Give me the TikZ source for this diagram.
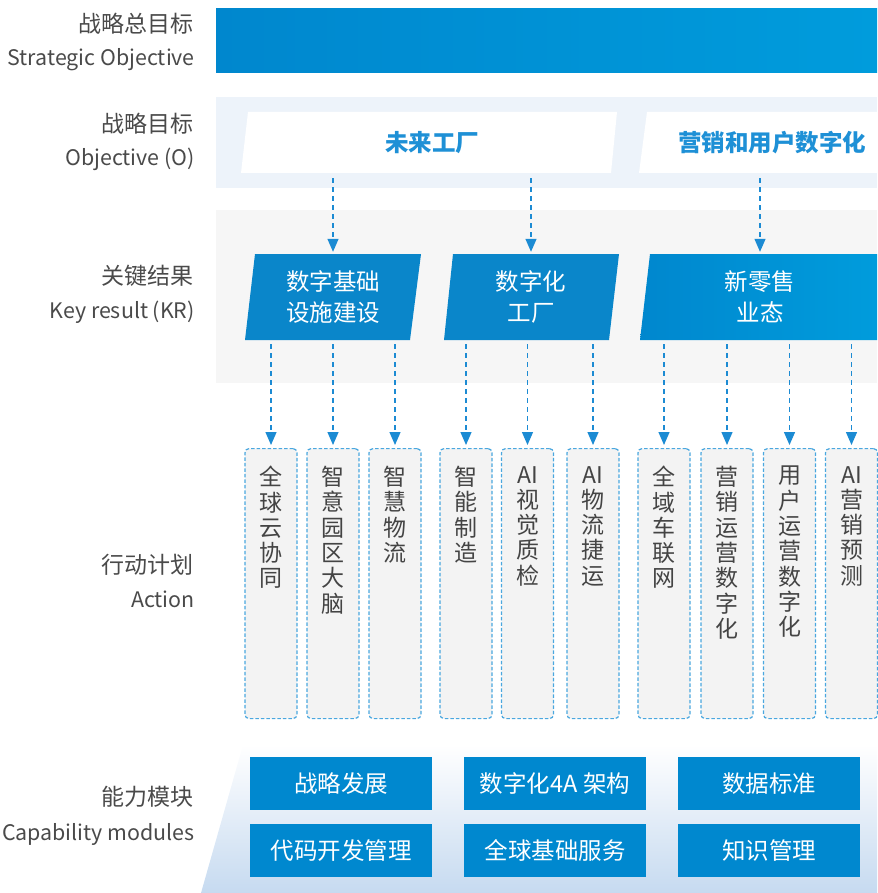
\documentclass[tikz,border=0pt]{standalone}
\usepackage{fontspec}
\setmainfont{Noto Sans CJK SC}
\usetikzlibrary{arrows.meta}
\definecolor{barL}{HTML}{0087CE}
\definecolor{barR}{HTML}{009CDC}
\definecolor{krblue}{HTML}{0A86CA}
\definecolor{objband}{HTML}{EDF3FA}
\definecolor{krband}{HTML}{F6F6F6}
\definecolor{capblue}{HTML}{C6DAF0}
\definecolor{arrblue}{HTML}{1C8BD3}
\definecolor{dashblue}{HTML}{4AA7DF}
\definecolor{objtxt}{HTML}{1E90D6}
\definecolor{lblgray}{HTML}{4A4A4A}
\definecolor{actgray}{HTML}{F3F3F3}
\definecolor{acttxt}{HTML}{444444}
\definecolor{btnblue}{HTML}{0088CF}
\tikzset{
  lblcn/.style={anchor=east, text=lblgray, inner sep=0, font=\fontsize{23}{25}\selectfont},
  lblen/.style={anchor=base east, text=lblgray, inner sep=0, font=\fontsize{21.4}{23}\selectfont},
  objnode/.style={text=objtxt, minimum height=61pt, inner sep=0, font=\fontsize{23.5}{26}\selectfont\bfseries},
  krnode/.style={text=white, minimum width=160pt, minimum height=86pt, inner sep=0, align=center, font=\fontsize{23.5}{31}\selectfont},
  arr/.style={draw=arrblue, line width=1.3pt, dash pattern=on 5pt off 4pt, -{Triangle[width=11pt,length=13pt]}},
  actbox/.style={draw=dashblue, line width=1.2pt, dash pattern=on 3.5pt off 2pt, rounded corners=4pt, fill=actgray, minimum width=52pt, minimum height=270pt, anchor=north, inner sep=0},
  acttext/.style={anchor=north, yshift=-18pt, align=center, text=acttxt, inner sep=0, font=\fontsize{23}{25.3}\selectfont},
  capbtn/.style={fill=btnblue, text=white, minimum width=182pt, minimum height=53pt, inner sep=0, font=\fontsize{23.5}{26}\selectfont}
}
\begin{document}
\begin{tikzpicture}[x=1pt,y=-1pt]
\useasboundingbox (0,0) rectangle (877,893);
% bands
\shade[left color=barL, right color=barR] (216,9) rectangle (877,73);
\fill[objband] (216,97) rectangle (877,188);
\fill[krband] (216,210) rectangle (877,383);
\shade[top color=white, bottom color=capblue] (243,745) -- (877,745) -- (877,893) -- (201,893) -- cycle;
% objective parallelograms
\fill[white] (241,173) -- (248,112) -- (617,112) -- (611,173) -- cycle;
\fill[white] (639,173) -- (647,112) -- (877,112) -- (877,173) -- cycle;
% KR parallelograms
\fill[krblue] (245,340) -- (255,254) -- (421,254) -- (410,340) -- cycle;
\fill[krblue] (444,340) -- (453,254) -- (619,254) -- (609,340) -- cycle;
\shade[left color=barL, right color=barR] (640,340) -- (650,254) -- (877,254) -- (877,340) -- cycle;
% left labels
\node[lblcn] (l1) at (194,24) {战略总目标};
\node[lblen] (l1e) at (195,66) {Strategic Objective};
\node[lblcn] (l2) at (194,124) {战略目标};
\node[lblen] (l2e) at (195,166) {Objective (O)};
\node[lblcn] (l3) at (194,276) {关键结果};
\node[lblen] (l3e) at (195,318) {Key result (KR)};
\node[lblcn] (l4) at (194,565) {行动计划};
\node[lblen] (l4e) at (195,607) {Action};
\node[lblcn] (l5) at (194,797) {能力模块};
\node[lblen] (l5e) at (195,840) {Capability modules};
% objectives
\node[objnode, minimum width=370pt] (o1) at (432,142.5) {未来工厂};
\node[objnode, minimum width=200pt] (o2) at (772,142.5) {营销和用户数字化};
% key results
\node[krnode] (kr1) at (333,297) {数字基础\\设施建设};
\node[krnode] (kr2) at (531,297) {数字化\\工厂};
\node[krnode, minimum width=230pt] (kr3) at (760,297) {新零售\\业态};
% actions
\node[actbox, label={[acttext]north:{全\\球\\云\\协\\同}}] (a1) at (271,448) {};
\node[actbox, label={[acttext]north:{智\\意\\园\\区\\大\\脑}}] (a2) at (333,448) {};
\node[actbox, label={[acttext]north:{智\\慧\\物\\流}}] (a3) at (395,448) {};
\node[actbox, label={[acttext]north:{智\\能\\制\\造}}] (a4) at (466,448) {};
\node[actbox, label={[acttext]north:{AI\\视\\觉\\质\\检}}] (a5) at (527.5,448) {};
\node[actbox, label={[acttext]north:{AI\\物\\流\\捷\\运}}] (a6) at (593,448) {};
\node[actbox, label={[acttext]north:{全\\域\\车\\联\\网}}] (a7) at (664,448) {};
\node[actbox, label={[acttext]north:{营\\销\\运\\营\\数\\字\\化}}] (a8) at (727,448) {};
\node[actbox, label={[acttext]north:{用\\户\\运\\营\\数\\字\\化}}] (a9) at (789.5,448) {};
\node[actbox, label={[acttext]north:{AI\\营\\销\\预\\测}}] (a10) at (851.5,448) {};
% objective -> KR arrows
\draw[arr, shorten <=5pt, shorten >=2pt] (o1.south -| kr1.north) -- (kr1.north);
\draw[arr, shorten <=5pt, shorten >=2pt] (o1.south -| kr2.north) -- (kr2.north);
\draw[arr, shorten <=5pt, shorten >=2pt] (o2.south -| kr3.north) -- (kr3.north);
% KR -> action arrows
\foreach \k/\a in {kr1/a1,kr1/a2,kr1/a3,kr2/a4,kr2/a5,kr2/a6,kr3/a7,kr3/a8,kr3/a9,kr3/a10}
  \draw[arr, shorten <=4pt, shorten >=3pt] (\k.south -| \a.north) -- (\a.north);
% capability modules
\node[capbtn] (c1) at (341,783.5) {战略发展};
\node[capbtn] (c2) at (555,783.5) {数字化4A 架构};
\node[capbtn] (c3) at (769,783.5) {数据标准};
\node[capbtn] (c4) at (341,850.5) {代码开发管理};
\node[capbtn] (c5) at (555,850.5) {全球基础服务};
\node[capbtn] (c6) at (769,850.5) {知识管理};
\end{tikzpicture}
\end{document}
